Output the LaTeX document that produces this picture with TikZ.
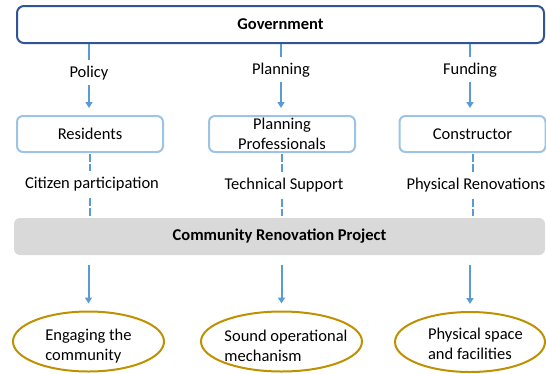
\documentclass[tikz,border=0pt]{standalone}
\usepackage{fontspec}
\setmainfont{Carlito}
\usetikzlibrary{shapes.geometric, positioning, arrows.meta}

\definecolor{govblue}{HTML}{2F5597}
\definecolor{lineblue}{HTML}{5B9BD5}
\definecolor{boxblue}{HTML}{9DC3E6}
\definecolor{projgray}{HTML}{D9D9D9}
\definecolor{goalgold}{HTML}{BF9000}

\newcommand{\diagfont}{\fontsize{16.5}{19.5}\selectfont}

\tikzset{
    govbox/.style={draw=govblue, line width=2pt, rounded corners=7pt, minimum width=527pt, minimum height=37pt, inner sep=0pt, font=\diagfont\bfseries},
    actorbox/.style={draw=boxblue, line width=2pt, rounded corners=6pt, minimum width=146pt, minimum height=36pt, inner sep=0pt, align=center},
    projbox/.style={fill=projgray, rounded corners=6pt, minimum width=531pt, minimum height=37pt, inner sep=0pt, font=\diagfont\bfseries},
    goal/.style={draw=goalgold, ellipse, line width=2pt, minimum height=60pt, inner sep=0pt},
    goaltext/.style={align=left, inner sep=0pt},
    flow/.style={draw=lineblue, line width=2pt, -{Triangle[length=6pt,width=7pt]}},
    link/.style={draw=lineblue, line width=2pt},
    dashlink/.style={draw=lineblue, line width=2pt, dash pattern=on 8pt off 2pt},
}

\begin{document}
\begin{tikzpicture}[x=1pt, y=-1pt, font=\diagfont]
    \useasboundingbox (0,0) rectangle (546,373);

    % 政府
    \node[govbox] (gov) at (280.5,24.5) {Government};
    \node (lpol) at (89,73) {Policy};
    \node (lplan) at (281,70) {Planning};
    \node (lfund) at (470,70) {Funding};

    % 参与方
    \node[actorbox] (res) at (90,134) {Residents};
    \node[actorbox] (plan) at (282,134) {Planning\\Professionals};
    \node[actorbox] (cons) at (472.5,134) {Constructor};
    \node (lcit) at (92,184) {Citizen participation};
    \node (ltech) at (284,185) {Technical Support};
    \node (lphys) at (476,185) {Physical Renovations};

    % 项目
    \node[projbox] (proj) at (279.5,236.5) {Community Renovation Project};

    % 目标
    \node[goal, minimum width=151pt] (eng) at (88.5,341.5) {};
    \node[goal, minimum width=161pt] (sound) at (281.5,341.5) {};
    \node[goal, minimum width=150pt] (phys) at (470,342) {};
    \node[goaltext] (engt) at (88.5,346) {Engaging the\\community};
    \node[goaltext] (soundt) at (286,346) {Sound operational\\mechanism};
    \node[goaltext] (physt) at (475.5,344) {Physical space\\and facilities};

    % 连线
    \foreach \lab/\act in {lpol/res, lplan/plan, lfund/cons} {
        \draw[link] (\lab |- gov.south) -- ([yshift=2pt]\lab.north);
        \draw[flow, shorten >=7pt] ([yshift=-1pt]\lab.south) -- (\lab |- \act.north);
    }
    \foreach \act/\lab in {res/lcit, plan/ltech, cons/lphys} {
        \draw[dashlink, shorten <=1pt] (\act.south) -- ([yshift=2pt]\act.south |- \lab.north);
        \draw[dashlink, shorten >=2pt] ([yshift=-3pt]\act.south |- \lab.south) -- (\act.south |- proj.north);
    }
    \foreach \goal in {eng, sound, phys} {
        \draw[flow, shorten <=10pt, shorten >=7pt] (\goal |- proj.south) -- (\goal.north);
    }
\end{tikzpicture}
\end{document}
